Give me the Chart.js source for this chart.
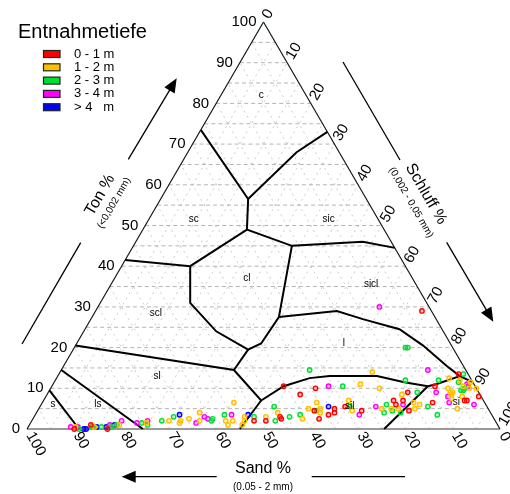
<!DOCTYPE html>
<html>
<head>
<meta charset="utf-8">
<script src="https://cdn.jsdelivr.net/npm/chart.js@4.4.1/dist/chart.umd.min.js"></script>
<style>
  html, body { margin: 0; padding: 0; background: #fff; }
  #wrap { width: 510px; height: 494px; }
</style>
</head>
<body>
<div id="wrap"><canvas id="soilChart" width="510" height="494"></canvas></div>
<script>
// every composition is [sand, silt, clay] in %
const depthLabels = ['0 - 1 m', '1 - 2 m', '2 - 3 m', '3 - 4 m', '> 4   m'];
const depthColors = ['#ff0000', '#ffbf00', '#00dd33', '#ff00ff', '#0000ff'];

const depth0to1 = [
  [90,10,0],[86,13,1],[83,17,0],[51,47,2],[40.5,49,10.5],[38,53.5,8.5],[34,56,10],
  [37,58.5,4.5],[32.5,62.5,5],[33,63,4],[34.5,62,3.5],[37,60.5,2.5],[30,64.5,5.5],
  [27,68.5,4.5],[45,52,3],[45,52.5,2.5],[48.5,49.5,2],[19,74,7],[17,76,7],[17,78.5,4.5],
  [11,82.5,6.5],[2,84.5,13.5],[3.5,89.5,7],[0.5,91.5,8],[15,76,9],[8.5,81,10.5],
  [2,69,29],[19,75,6],[4,89,7]
];
const depth1to2 = [
  [89.5,10,0.5],[85.5,14,0.5],[80,19,1],[74,24.5,1.5],[69,29,2],[66.5,31.5,2],[67,31.5,1.5],
  [64.5,33,2.5],[61.5,34.5,4],[62.5,35.5,2],[53,40.5,6.5],[57,41,2],[57,42,1],[55.5,42.5,2],
  [52.5,44.5,3],[53,45,2],[54,45,1],[24,65,11],[20,66,14],[38,57,5],[35.5,58,6.5],
  [35.5,59.5,5],[36,60,4],[28.5,64.5,7],[29,66.5,4.5],[45,51,4],[40.5,57,2.5],[48,49,3],
  [20.5,69.5,10],[16.5,75,8.5],[22.5,72.5,5],[19,76,5],[15,78.5,6.5],[14,80,6],[15.5,79.5,5],
  [4.5,83,12.5],[6,85,9],[6,85.5,8.5],[6.5,88.5,5],[0,90,10],[6,84,10],[5.5,85.5,9],
  [2.5,85.5,12],[0.5,88,11.5],[1.5,88.5,10],[4,88,8],[6.5,86,7.5],[20.5,74.5,5],[2.5,87,10.5]
];
const depth2to3 = [
  [89,11,0],[86,13.5,0.5],[84,15.5,0.5],[82,17.5,0.5],[80.5,18.5,1],[75,23.5,1.5],[74,25,1],
  [70.5,27.5,2],[67.5,29.5,3],[60,38,2],[59.5,38,2.5],[56.5,40,3.5],[33,52.5,14.5],
  [28,61.5,10.5],[45,49.5,5.5],[36.5,59,4.5],[29,65.5,5.5],[43,54,3],[40.5,56,3.5],
  [46.5,51.5,2],[50.5,46.5,3],[14,74,12],[7,81,12],[1,85.5,13.5],[21,73,6],[20.5,75,4.5],
  [19,77,4],[12.5,82,5.5],[11.5,85,3.5],[3,87.5,9.5],[13,78,9],[3,85.5,11.5],[2.5,87.5,10],
  [3.5,87,9.5],[22.5,73.5,4],[10,70,20],[9.5,70.5,20]
];
const depth3to4 = [
  [90.5,9,0.5],[89,10.5,0.5],[82,17,1],[79,19,2],[76,22.5,1.5],[73.5,24.5,2],[61,36,3],
  [63.5,35,1.5],[60.5,37,2.5],[55,41.5,3.5],[31,58.5,10.5],[28,68.5,3.5],[23.5,71,5.5],
  [8,77.5,14.5],[17.5,76.5,6],[9,82,9],[7.5,86,6.5],[1.5,87.5,11],[2.5,91.5,6],
  [1.5,88,10.5],[7,85,8],[10.5,59.5,30]
];
const depthOver4 = [
  [88,12,0],[87.5,12.5,0],[85,14.5,0.5],[83,16.5,0.5],[81,18,1],[66,30.5,3.5],
  [51.5,45,3.5],[33.5,61,5.5]
];

// texture class borders, one polyline each
const borderLines = [
  [[26.5,0,73.5],[25,18.5,56.5],[9,23,68],[0,27,73]],
  [[25,18.5,56.5],[29,22,49]],
  [[58.5,0,41.5],[45.5,14.5,40],[29,22,49],[21.5,33.5,45],[6,48,46],[0,55.5,44.5]],
  [[45.5,14.5,40],[50,19,31],[48,28,24],[43.5,37,19.5],[40,39,21],[33,39.5,27.5],[21.5,33.5,45]],
  [[33,39.5,27.5],[20,51,29],[15.5,57.5,27],[9,66.5,24.5],[6,73.5,20.5],[3.5,81,15.5],[2,85,13],[0,88.5,11.5]],
  [[79.5,0,20.5],[49,36.5,14.5],[47,46,7],[40.5,49,10.5],[34,53.5,12.5],[29.5,57.5,13],
   [24.5,62.5,13],[19.5,67.5,13],[14.5,74,11.5],[10,79.5,10.5],[8,81,11],[2,85,13]],
  [[43.5,37,19.5],[49,36.5,14.5]],
  [[47,46,7],[55,45,0]],
  [[10,79.5,10.5],[24.5,75.5,0]],
  [[85.5,0,14.5],[75.5,24.5,0]],
  [[90.5,0,9.5],[89,11,0]]
];

const classNames = ['c', 'sc', 'sic', 'cl', 'sicl', 'scl', 'l', 'sl', 'sil', 'si', 's', 'ls'];
const classPositions = [
  [9.5,8.5,82],[39,9.5,51.5],[10.5,38,51.5],[35,28,37],[9.5,55,35.5],[58.5,13,28.5],
  [22.5,56.5,21],[66,21,13],[29,65.5,5.5],[6,87.5,6.5],[91.5,2.5,6],[82,12,6]
];

const tickValues = [0, 10, 20, 30, 40, 50, 60, 70, 80, 90, 100];

const FONT = 'Arial, "Liberation Sans", sans-serif';

// ternary -> cartesian (x runs along the sand edge, y is clay height)
function toXY(p) {
  return { x: p[1] + p[2] / 2, y: p[2] };
}

function toPx(chart, sand, silt, clay) {
  return {
    x: chart.scales.x.getPixelForValue(silt + clay / 2),
    y: chart.scales.y.getPixelForValue(clay)
  };
}

function segment(ctx, chart, a, b) {
  const p = toPx(chart, a[0], a[1], a[2]);
  const q = toPx(chart, b[0], b[1], b[2]);
  ctx.beginPath();
  ctx.moveTo(p.x, p.y);
  ctx.lineTo(q.x, q.y);
  ctx.stroke();
}

function arrow(ctx, x1, y1, x2, y2) {
  const a = Math.atan2(y2 - y1, x2 - x1);
  const c = Math.cos(a), s = Math.sin(a);
  ctx.beginPath();
  ctx.moveTo(x1, y1);
  ctx.lineTo(x2 - 10 * c, y2 - 10 * s);
  ctx.stroke();
  ctx.beginPath();
  ctx.moveTo(x2, y2);
  ctx.lineTo(x2 - 14 * c + 6 * s, y2 - 14 * s - 6 * c);
  ctx.lineTo(x2 - 14 * c - 6 * s, y2 - 14 * s + 6 * c);
  ctx.closePath();
  ctx.fill();
}

function rotatedText(ctx, text, x, y, angle, align) {
  ctx.save();
  ctx.translate(x, y);
  ctx.rotate(angle);
  ctx.textAlign = align;
  ctx.fillText(text, 0, 0);
  ctx.restore();
}

const ternaryFrame = {
  id: 'ternaryFrame',
  beforeDatasetsDraw(chart) {
    const ctx = chart.ctx;
    ctx.save();
    ctx.lineWidth = 1;
    for (let k = 5; k < 100; k += 5) {
      ctx.strokeStyle = '#cacaca';
      ctx.setLineDash([2, 4]);
      segment(ctx, chart, [100 - k, k, 0], [0, k, 100 - k]);
      segment(ctx, chart, [k, 100 - k, 0], [k, 0, 100 - k]);
      ctx.strokeStyle = '#b4b4b4';
      ctx.setLineDash([4, 3]);
      segment(ctx, chart, [100 - k, 0, k], [0, 100 - k, k]);
    }
    ctx.setLineDash([]);
    ctx.strokeStyle = '#999999';
    ctx.lineWidth = 2;
    segment(ctx, chart, [100, 0, 0], [0, 100, 0]);
    ctx.strokeStyle = '#0d1a0d';
    ctx.lineWidth = 1.2;
    segment(ctx, chart, [100, 0, 0], [0, 0, 100]);
    segment(ctx, chart, [0, 0, 100], [0, 100, 0]);
    ctx.restore();
  }
};

const ternaryText = {
  id: 'ternaryText',
  afterDatasetsDraw(chart) {
    const ctx = chart.ctx;
    const up = -Math.PI / 3, down = Math.PI / 3;
    ctx.save();
    ctx.fillStyle = '#000';
    ctx.strokeStyle = '#000';
    ctx.textBaseline = 'middle';

    // class names
    ctx.font = '10px ' + FONT;
    ctx.textAlign = 'center';
    classNames.forEach(function(name, i) {
      const p = classPositions[i];
      const q = toPx(chart, p[0], p[1], p[2]);
      ctx.fillText(name, q.x, q.y);
    });

    // tick labels on the three edges
    ctx.font = '15px ' + FONT;
    tickValues.forEach(function(v) {
      const t = toPx(chart, 100 - v, 0, v);
      ctx.textAlign = 'right';
      ctx.fillText(String(v), t.x - 7, t.y);

      const s = toPx(chart, 0, v, 100 - v);
      rotatedText(ctx, String(v), s.x + 2.5, s.y - 4.3, up, 'left');

      const b = toPx(chart, v, 100 - v, 0);
      rotatedText(ctx, String(v), b.x + 2.5, b.y + 4.3, down, 'left');
    });

    // axis titles
    ctx.font = '16px ' + FONT;
    rotatedText(ctx, 'Ton %', 100, 195, up, 'center');
    rotatedText(ctx, 'Schluff %', 426, 194, down, 'center');
    ctx.textAlign = 'center';
    ctx.fillText('Sand %', 263, 469);
    ctx.font = '10px ' + FONT;
    rotatedText(ctx, '(<0,002 mm)', 114, 203, up, 'center');
    rotatedText(ctx, '(0,002 - 0,05 mm)', 411, 202.5, down, 'center');
    ctx.textAlign = 'center';
    ctx.fillText('(0.05 - 2 mm)', 263, 487);

    // direction arrows
    ctx.lineWidth = 1.3;
    ctx.beginPath(); ctx.moveTo(22, 344); ctx.lineTo(80.7, 242.7); ctx.stroke();
    arrow(ctx, 128.3, 159.3, 176.7, 78.3);
    ctx.beginPath(); ctx.moveTo(343, 62); ctx.lineTo(400, 160); ctx.stroke();
    arrow(ctx, 446.7, 242.3, 493.3, 321.7);
    arrow(ctx, 216.7, 476.7, 121.7, 476.7);
    ctx.beginPath(); ctx.moveTo(311.7, 476.7); ctx.lineTo(405, 476.7); ctx.stroke();

    // legend
    ctx.textAlign = 'left';
    ctx.font = '20px ' + FONT;
    ctx.fillText('Entnahmetiefe', 18, 32);
    ctx.font = '13px ' + FONT;
    ctx.lineWidth = 1.2;
    depthLabels.forEach(function(label, i) {
      const y = 54 + i * 13.3;
      ctx.fillStyle = depthColors[i];
      ctx.fillRect(43.5, y - 3.5, 16.5, 7);
      ctx.strokeStyle = '#1a2a1a';
      ctx.strokeRect(43.5, y - 3.5, 16.5, 7);
      ctx.fillStyle = '#000';
      ctx.fillText(label, 74, y);
    });
    ctx.restore();
  }
};

function sampleSet(points, i) {
  return {
    label: depthLabels[i],
    data: points.map(toXY),
    borderColor: depthColors[i],
    backgroundColor: depthColors[i] + '40',
    pointRadius: 2.2,
    pointBorderWidth: 1.4,
    order: 0,
    clip: false
  };
}

const borderSets = borderLines.map(function(line) {
  return {
    data: line.map(toXY),
    showLine: true,
    borderColor: '#000',
    borderWidth: 2,
    pointRadius: 0,
    order: 1,
    clip: false
  };
});

const sampleSets = [depth0to1, depth1to2, depth2to3, depth3to4, depthOver4].map(sampleSet);

new Chart(document.getElementById('soilChart'), {
  type: 'scatter',
  data: { datasets: sampleSets.concat(borderSets) },
  options: {
    responsive: false,
    animation: false,
    events: [],
    layout: { padding: { left: 27, right: 10, top: 22, bottom: 65 } },
    scales: {
      x: { type: 'linear', min: 0, max: 100, display: false },
      y: { type: 'linear', min: 0, max: 100, display: false }
    },
    plugins: {
      legend: { display: false },
      tooltip: { enabled: false }
    }
  },
  plugins: [ternaryFrame, ternaryText]
});
</script>
</body>
</html>
